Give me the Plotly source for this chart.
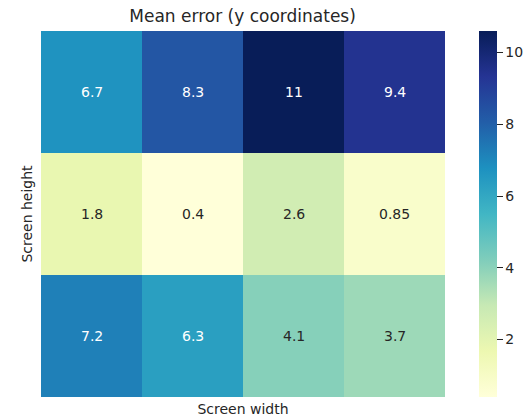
import plotly.graph_objects as go

# Mean error grid: rows = screen height bins, columns = screen width bins
rows = ["h0", "h1", "h2"]
cols = ["w0", "w1", "w2", "w3"]
mean_error = [
    [6.7, 8.3, 10.6, 9.4],
    [1.8, 0.4, 2.6, 0.85],
    [7.2, 6.3, 4.1, 3.7],
]
cbar_ticks = [2, 4, 6, 8, 10]

ylgnbu = ["#ffffd9", "#edf8b1", "#c7e9b4", "#7fcdbb", "#41b6c4",
          "#1d91c0", "#225ea8", "#253494", "#081d58"]
colorscale = [[i / (len(ylgnbu) - 1), c] for i, c in enumerate(ylgnbu)]

flat = [v for r in mean_error for v in r]
zmin, zmax = min(flat), max(flat)


def hex_rgb(h):
    return tuple(int(h[i:i + 2], 16) / 255 for i in (1, 3, 5))


def cell_rgb(v):
    t = (v - zmin) / (zmax - zmin) * (len(ylgnbu) - 1)
    i = min(int(t), len(ylgnbu) - 2)
    f = t - i
    a, b = hex_rgb(ylgnbu[i]), hex_rgb(ylgnbu[i + 1])
    return tuple(a[k] + (b[k] - a[k]) * f for k in range(3))


def luminance(rgb):
    lin = [c / 12.92 if c <= 0.03928 else ((c + 0.055) / 1.055) ** 2.4 for c in rgb]
    return 0.2126 * lin[0] + 0.7152 * lin[1] + 0.0722 * lin[2]


fig = go.Figure(go.Heatmap(
    z=mean_error, x=cols, y=rows,
    colorscale=colorscale, zmin=zmin, zmax=zmax,
    showscale=True,
    colorbar=dict(
        thickness=18, len=1.0, lenmode="fraction", y=0.5, yanchor="middle",
        x=1.084, xanchor="left", outlinewidth=0, xpad=0, ypad=0,
        tickvals=cbar_ticks, ticks="outside", ticklen=6, tickwidth=1,
        tickcolor="#262626",
        tickfont=dict(family="DejaVu Sans", size=14, color="#262626"),
    ),
    hoverinfo="skip",
))

for ri, r in enumerate(rows):
    for ci, c in enumerate(cols):
        v = mean_error[ri][ci]
        color = "#262626" if luminance(cell_rgb(v)) > 0.408 else "white"
        fig.add_annotation(x=c, y=r, text=format(v, ".2g"), showarrow=False,
                           font=dict(family="DejaVu Sans", size=14, color=color))

fig.update_layout(
    width=532, height=417,
    margin=dict(l=41, r=87, t=31, b=20, autoexpand=False),
    paper_bgcolor="white", plot_bgcolor="white",
    title=dict(text="Mean error (y coordinates)", x=0.456, xanchor="center",
               y=0.962, yanchor="middle",
               font=dict(family="DejaVu Sans", size=17, color="#262626")),
    xaxis=dict(showticklabels=False, ticks="", showgrid=False, zeroline=False,
               title=dict(text="Screen width", standoff=8,
                          font=dict(family="DejaVu Sans", size=14, color="#262626"))),
    yaxis=dict(showticklabels=False, ticks="", showgrid=False, zeroline=False,
               autorange="reversed",
               title=dict(text="Screen height", standoff=4,
                          font=dict(family="DejaVu Sans", size=14, color="#262626"))),
)

fig.write_html("out.html")
